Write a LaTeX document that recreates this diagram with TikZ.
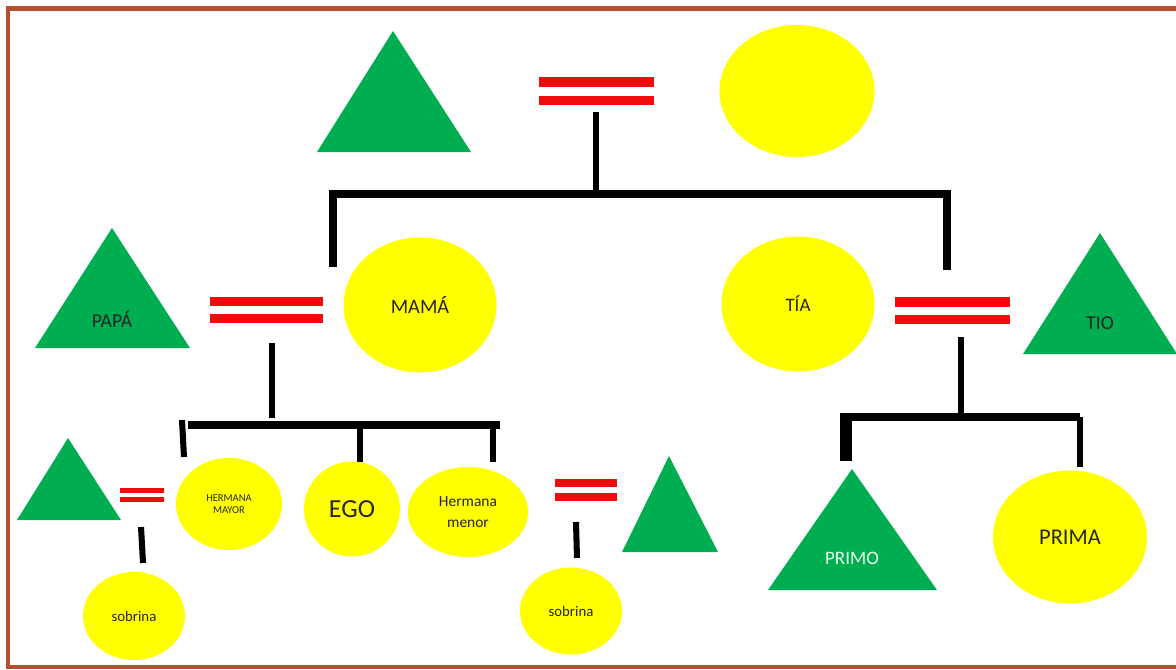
\documentclass[tikz,border=0pt]{standalone}
\usepackage{fontspec}
\setmainfont{Carlito}
\usepackage{tikz}
\usetikzlibrary{shapes.geometric}
\definecolor{kingreen}{RGB}{0,173,80}
\definecolor{kinyellow}{RGB}{255,255,0}
\definecolor{kinred}{RGB}{240,12,12}
\definecolor{framebrown}{RGB}{184,78,48}

\begin{document}
\begin{tikzpicture}[x=0.025cm,y=-0.025cm,
  fem/.style={ellipse,fill=kinyellow,inner sep=0pt,text=black!85,align=center},
  masc/.style={fill=kingreen},
  bond/.style={fill=kinred},
  lineage/.style={draw=black,line width=4.3pt,miter limit=2},
  lbl/.style={inner sep=0pt,text=black!85,align=center}]
\useasboundingbox (0,0) rectangle (1176,670);
\draw[framebrown,line width=3.2pt] (8,8.5) rectangle (1200,667);
% abuelos
\fill[masc] (317,152)--(393,31)--(471,152)--cycle;
\node[fem,minimum width=3.875cm,minimum height=3.3cm] (abuela) at (797,91) {};
\fill[bond] (539,77) rectangle (654,87);
\fill[bond] (539,96) rectangle (654,105);
\coordinate (s0) at (596,112);
\coordinate (b0) at (596,194);
\coordinate (b0l) at (333,194);
\coordinate (b0r) at (947,194);
\draw[lineage] (s0)--(b0);
\draw[lineage,line width=5pt] (333,267)--(b0l)--(b0r)--(947,270);
% padres
\fill[masc] (35,348)--(112,228)--(190,348)--cycle;
\node[lbl,font=\fontsize{14}{16}\selectfont] (papa) at (112,319) {PAPÁ};
\fill[bond] (210,297) rectangle (323,306);
\fill[bond] (210,314) rectangle (323,323);
\node[fem,minimum width=3.825cm,minimum height=3.375cm,font=\fontsize{14.5}{16}\selectfont] (mama) at (420,305) {MAMÁ};
% tios
\node[fem,minimum width=3.825cm,minimum height=3.375cm,font=\fontsize{13.5}{16}\selectfont] (tia) at (798,304) {TÍA};
\fill[bond] (895,297) rectangle (1010,307);
\fill[bond] (895,315) rectangle (1010,324);
\fill[masc] (1023,354)--(1100,233)--(1177,354)--cycle;
\node[lbl,font=\fontsize{14}{16}\selectfont] (tio) at (1100,323) {TIO};
% hermanos
\coordinate (s1) at (272,343);
\coordinate (b1) at (272,425);
\draw[lineage] (s1)--(272,418);
\draw[lineage,line width=5pt] (188,425)--(500,425);
\draw[lineage] (182,420)--(184,457);
\draw[lineage] (360,425)--(360,462);
\draw[lineage] (493,425)--(493,462);
\node[fem,minimum width=2.65cm,minimum height=2.3cm,font=\fontsize{7.5}{9}\selectfont] (hmayor) at (229,504) {HERMANA\\MAYOR};
\node[fem,minimum width=2.4cm,minimum height=2.375cm,font=\fontsize{18.5}{20}\selectfont] (ego) at (352,509) {EGO};
\node[fem,minimum width=3cm,minimum height=2.25cm,font=\fontsize{11}{15}\selectfont] (hmenor) at (468,512) {Hermana\\menor};
% cuñados y sobrinas
\fill[masc] (17,520)--(68,438)--(121,520)--cycle;
\fill[bond] (120,488) rectangle (164,493);
\fill[bond] (120,497) rectangle (164,502);
\draw[lineage] (141,527)--(143,563);
\node[fem,minimum width=2.55cm,minimum height=2.2cm,font=\fontsize{10.5}{12}\selectfont] (sobrinaA) at (134,616) {sobrina};
\fill[bond] (555,479) rectangle (617,487);
\fill[bond] (555,493) rectangle (617,501);
\fill[masc] (622,552)--(669,456)--(718,552)--cycle;
\draw[lineage] (576,522)--(577,558);
\node[fem,minimum width=2.55cm,minimum height=2.175cm,font=\fontsize{10.5}{12}\selectfont] (sobrinaB) at (571,611) {sobrina};
% primos
\coordinate (s2) at (961,337);
\draw[lineage] (s2)--(961,414);
\draw[lineage,line width=5pt] (840,417)--(1080,417);
\fill (840,414) rectangle (852,461);
\draw[lineage] (1080,417)--(1080,467);
\fill[masc] (768,590)--(852,469)--(937,590)--cycle;
\node[lbl,text=white!92!green,font=\fontsize{13.5}{16}\selectfont] (primo) at (852,558) {PRIMO};
\node[fem,minimum width=3.85cm,minimum height=3.325cm,font=\fontsize{16}{18}\selectfont] (prima) at (1070,537) {PRIMA};
\end{tikzpicture}
\end{document}
